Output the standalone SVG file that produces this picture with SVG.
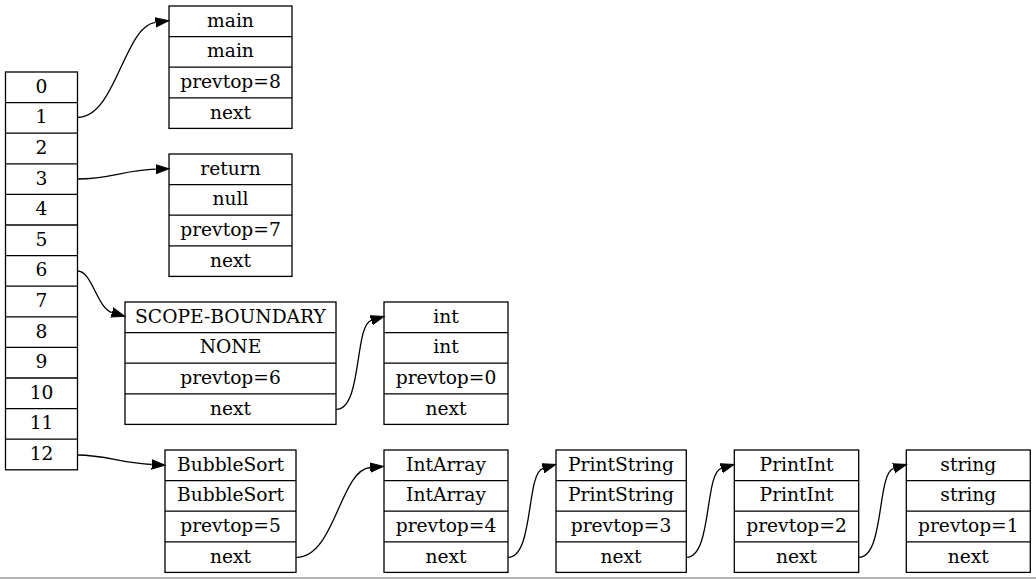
<svg xmlns="http://www.w3.org/2000/svg" width="1036" height="579" viewBox="0 0 1036 579">
<defs>
<style>
.box{fill:#fff;stroke:#000;stroke-width:1.3}
.sep{stroke:#000;stroke-width:1.3}
text{font-family:"DejaVu Serif","Liberation Serif",serif;font-size:18.67px;fill:#000;text-anchor:middle}
.edge{fill:none;stroke:#000;stroke-width:1.3}
</style>
<marker id="arr" markerUnits="userSpaceOnUse" markerWidth="16" markerHeight="12" refX="0" refY="6" orient="auto" viewBox="0 0 16 12">
<path d="M0,1.33 L13.3,6 L0,10.67 z" fill="#000" stroke="#000" stroke-width="1"/>
</marker>
</defs>
<rect x="0" y="0" width="1036" height="579" fill="#fff"/>

<g id="stack">
<rect class="box" x="5.5" y="72" width="72" height="397.8"/>
<line class="sep" x1="5.5" y1="102.6" x2="77.5" y2="102.6"/>
<line class="sep" x1="5.5" y1="133.2" x2="77.5" y2="133.2"/>
<line class="sep" x1="5.5" y1="163.8" x2="77.5" y2="163.8"/>
<line class="sep" x1="5.5" y1="194.4" x2="77.5" y2="194.4"/>
<line class="sep" x1="5.5" y1="225" x2="77.5" y2="225"/>
<line class="sep" x1="5.5" y1="255.6" x2="77.5" y2="255.6"/>
<line class="sep" x1="5.5" y1="286.2" x2="77.5" y2="286.2"/>
<line class="sep" x1="5.5" y1="316.8" x2="77.5" y2="316.8"/>
<line class="sep" x1="5.5" y1="347.4" x2="77.5" y2="347.4"/>
<line class="sep" x1="5.5" y1="378" x2="77.5" y2="378"/>
<line class="sep" x1="5.5" y1="408.6" x2="77.5" y2="408.6"/>
<line class="sep" x1="5.5" y1="439.2" x2="77.5" y2="439.2"/>
<text x="41.5" y="92.8">0</text>
<text x="41.5" y="123.4">1</text>
<text x="41.5" y="154">2</text>
<text x="41.5" y="184.6">3</text>
<text x="41.5" y="215.2">4</text>
<text x="41.5" y="245.8">5</text>
<text x="41.5" y="276.4">6</text>
<text x="41.5" y="307">7</text>
<text x="41.5" y="337.6">8</text>
<text x="41.5" y="368.2">9</text>
<text x="41.5" y="398.8">10</text>
<text x="41.5" y="429.4">11</text>
<text x="41.5" y="460">12</text>
</g>

<g id="main">
<rect class="box" x="169" y="6" width="123" height="122.4"/>
<line class="sep" x1="169" y1="36.6" x2="292" y2="36.6"/>
<line class="sep" x1="169" y1="67.2" x2="292" y2="67.2"/>
<line class="sep" x1="169" y1="97.8" x2="292" y2="97.8"/>
<text x="230.5" y="26.8">main</text>
<text x="230.5" y="57.4">main</text>
<text x="230.5" y="88">prevtop=8</text>
<text x="230.5" y="118.6">next</text>
</g>

<g id="return">
<rect class="box" x="169" y="154" width="123" height="122.4"/>
<line class="sep" x1="169" y1="184.6" x2="292" y2="184.6"/>
<line class="sep" x1="169" y1="215.2" x2="292" y2="215.2"/>
<line class="sep" x1="169" y1="245.8" x2="292" y2="245.8"/>
<text x="230.5" y="174.8">return</text>
<text x="230.5" y="205.4">null</text>
<text x="230.5" y="236">prevtop=7</text>
<text x="230.5" y="266.6">next</text>
</g>

<g id="scope">
<rect class="box" x="125" y="302" width="211" height="122.4"/>
<line class="sep" x1="125" y1="332.6" x2="336" y2="332.6"/>
<line class="sep" x1="125" y1="363.2" x2="336" y2="363.2"/>
<line class="sep" x1="125" y1="393.8" x2="336" y2="393.8"/>
<text x="230.5" y="322.8">SCOPE-BOUNDARY</text>
<text x="230.5" y="353.4">NONE</text>
<text x="230.5" y="384">prevtop=6</text>
<text x="230.5" y="414.6">next</text>
</g>

<g id="int">
<rect class="box" x="384" y="302" width="124" height="122.4"/>
<line class="sep" x1="384" y1="332.6" x2="508" y2="332.6"/>
<line class="sep" x1="384" y1="363.2" x2="508" y2="363.2"/>
<line class="sep" x1="384" y1="393.8" x2="508" y2="393.8"/>
<text x="446" y="322.8">int</text>
<text x="446" y="353.4">int</text>
<text x="446" y="384">prevtop=0</text>
<text x="446" y="414.6">next</text>
</g>

<g id="bubblesort">
<rect class="box" x="165" y="450" width="131" height="122.4"/>
<line class="sep" x1="165" y1="480.6" x2="296" y2="480.6"/>
<line class="sep" x1="165" y1="511.2" x2="296" y2="511.2"/>
<line class="sep" x1="165" y1="541.8" x2="296" y2="541.8"/>
<text x="230.5" y="470.8">BubbleSort</text>
<text x="230.5" y="501.4">BubbleSort</text>
<text x="230.5" y="532">prevtop=5</text>
<text x="230.5" y="562.6">next</text>
</g>

<g id="intarray">
<rect class="box" x="384" y="450" width="124" height="122.4"/>
<line class="sep" x1="384" y1="480.6" x2="508" y2="480.6"/>
<line class="sep" x1="384" y1="511.2" x2="508" y2="511.2"/>
<line class="sep" x1="384" y1="541.8" x2="508" y2="541.8"/>
<text x="446" y="470.8">IntArray</text>
<text x="446" y="501.4">IntArray</text>
<text x="446" y="532">prevtop=4</text>
<text x="446" y="562.6">next</text>
</g>

<g id="printstring">
<rect class="box" x="556" y="450" width="130.3" height="122.4"/>
<line class="sep" x1="556" y1="480.6" x2="686.3" y2="480.6"/>
<line class="sep" x1="556" y1="511.2" x2="686.3" y2="511.2"/>
<line class="sep" x1="556" y1="541.8" x2="686.3" y2="541.8"/>
<text x="621" y="470.8">PrintString</text>
<text x="621" y="501.4">PrintString</text>
<text x="621" y="532">prevtop=3</text>
<text x="621" y="562.6">next</text>
</g>

<g id="printint">
<rect class="box" x="734.3" y="450" width="124.4" height="122.4"/>
<line class="sep" x1="734.3" y1="480.6" x2="858.7" y2="480.6"/>
<line class="sep" x1="734.3" y1="511.2" x2="858.7" y2="511.2"/>
<line class="sep" x1="734.3" y1="541.8" x2="858.7" y2="541.8"/>
<text x="796.5" y="470.8">PrintInt</text>
<text x="796.5" y="501.4">PrintInt</text>
<text x="796.5" y="532">prevtop=2</text>
<text x="796.5" y="562.6">next</text>
</g>

<g id="string">
<rect class="box" x="906.3" y="450" width="124" height="122.4"/>
<line class="sep" x1="906.3" y1="480.6" x2="1030.3" y2="480.6"/>
<line class="sep" x1="906.3" y1="511.2" x2="1030.3" y2="511.2"/>
<line class="sep" x1="906.3" y1="541.8" x2="1030.3" y2="541.8"/>
<text x="968.3" y="470.8">string</text>
<text x="968.3" y="501.4">string</text>
<text x="968.3" y="532">prevtop=1</text>
<text x="968.3" y="562.6">next</text>
</g>

<g id="edges">
<path class="edge" marker-end="url(#arr)" d="M77.5,117.5 C116,117.5 124,26 155.5,22.3"/>
<path class="edge" marker-end="url(#arr)" d="M77.5,179 C110,179 125,170 155.7,169.2"/>
<path class="edge" marker-end="url(#arr)" d="M77.5,271 C92,271 97,308 112,312.5"/>
<path class="edge" marker-end="url(#arr)" d="M77.5,455 C105,455 122,463 151.7,464.5"/>
<path class="edge" marker-end="url(#arr)" d="M336.3,409.3 C362.3,409.3 354.3,325.3 371.3,320.3"/>
<path class="edge" marker-end="url(#arr)" d="M296.5,557.3 C335,557.3 340,470 370.2,467.5"/>
<path class="edge" marker-end="url(#arr)" d="M508,557.3 C534,557.3 526,473.3 543,468.3"/>
<path class="edge" marker-end="url(#arr)" d="M686.3,557.3 C712.3,557.3 704.3,473.3 721.3,468.3"/>
<path class="edge" marker-end="url(#arr)" d="M858.7,557.3 C884.7,557.3 876.7,473.3 893.7,468.3"/>
</g>

<rect x="0" y="577" width="1036" height="2" fill="#b4b4b4"/>
</svg>
